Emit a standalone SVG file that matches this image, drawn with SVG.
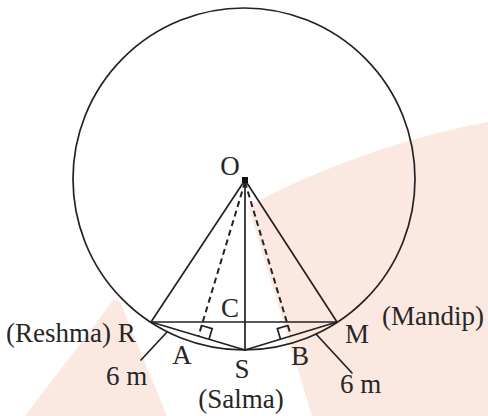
<svg xmlns="http://www.w3.org/2000/svg" width="488" height="416" viewBox="0 0 488 416">
<style>
.ln{stroke:#222;stroke-width:1.7;fill:none;stroke-linecap:round}
.ds{stroke:#222;stroke-width:2;fill:none;stroke-dasharray:6 4}
.tx{font-family:"Liberation Serif","Times New Roman",serif;font-size:27px;fill:#262626}
.wm{fill:#fbe8e1;stroke:none}
</style>
<rect width="488" height="416" fill="#ffffff"/>
<g id="watermark">
<path class="wm" d="M248,206 C300,178 390,140 488,122 L488,416 L312,416 Z"/>
<path class="wm" d="M25,416 C60,370 95,325 111,303 Q116,296 121,304 L167,416 Z"/>
</g>
<g id="circle">
<circle cx="244" cy="179" r="171" class="ln" stroke-width="2"/>
</g>
<g id="connectors">
<line class="ln" x1="245" y1="180" x2="151" y2="322"/>
<line class="ln" x1="245" y1="180" x2="337" y2="322"/>
<line class="ln" x1="245" y1="180" x2="245" y2="350" stroke="#444"/>
<line class="ln" x1="151" y1="322" x2="337" y2="322"/>
<line class="ln" x1="151" y1="322" x2="245" y2="350"/>
<line class="ln" x1="245" y1="350" x2="337" y2="322"/>
<line class="ds" x1="245" y1="182" x2="198.5" y2="336"/>
<line class="ds" x1="245" y1="182" x2="291" y2="336"/>
<polyline class="ln" points="209,339.2 212.2,328.6 201.6,325.5"/>
<polyline class="ln" points="280.5,339.2 277.3,328.6 287.9,325.5"/>
<line class="ln" x1="141" y1="360" x2="167" y2="332"/>
<line class="ln" x1="352" y1="373" x2="316" y2="334"/>
</g>
<g id="node-O">
<rect x="242" y="177" width="6" height="6" fill="#111"/>
<text class="tx" x="230" y="175" text-anchor="middle" font-size="23">O</text>
</g>
<g id="node-C"><text class="tx" x="230" y="317" text-anchor="middle">C</text></g>
<g id="node-R"><text class="tx" x="6" y="342">(Reshma) R</text></g>
<g id="node-M">
<text class="tx" x="357" y="343" text-anchor="middle">M</text>
<text class="tx" x="382" y="325">(Mandip)</text>
</g>
<g id="node-A"><text class="tx" x="182" y="364" text-anchor="middle">A</text></g>
<g id="node-B"><text class="tx" x="300" y="365" text-anchor="middle">B</text></g>
<g id="node-S">
<text class="tx" x="242" y="378" text-anchor="middle">S</text>
<text class="tx" x="241" y="408" text-anchor="middle">(Salma)</text>
</g>
<g id="labels">
<text class="tx" x="106" y="385">6 m</text>
<text class="tx" x="340" y="393">6 m</text>
</g>
</svg>
